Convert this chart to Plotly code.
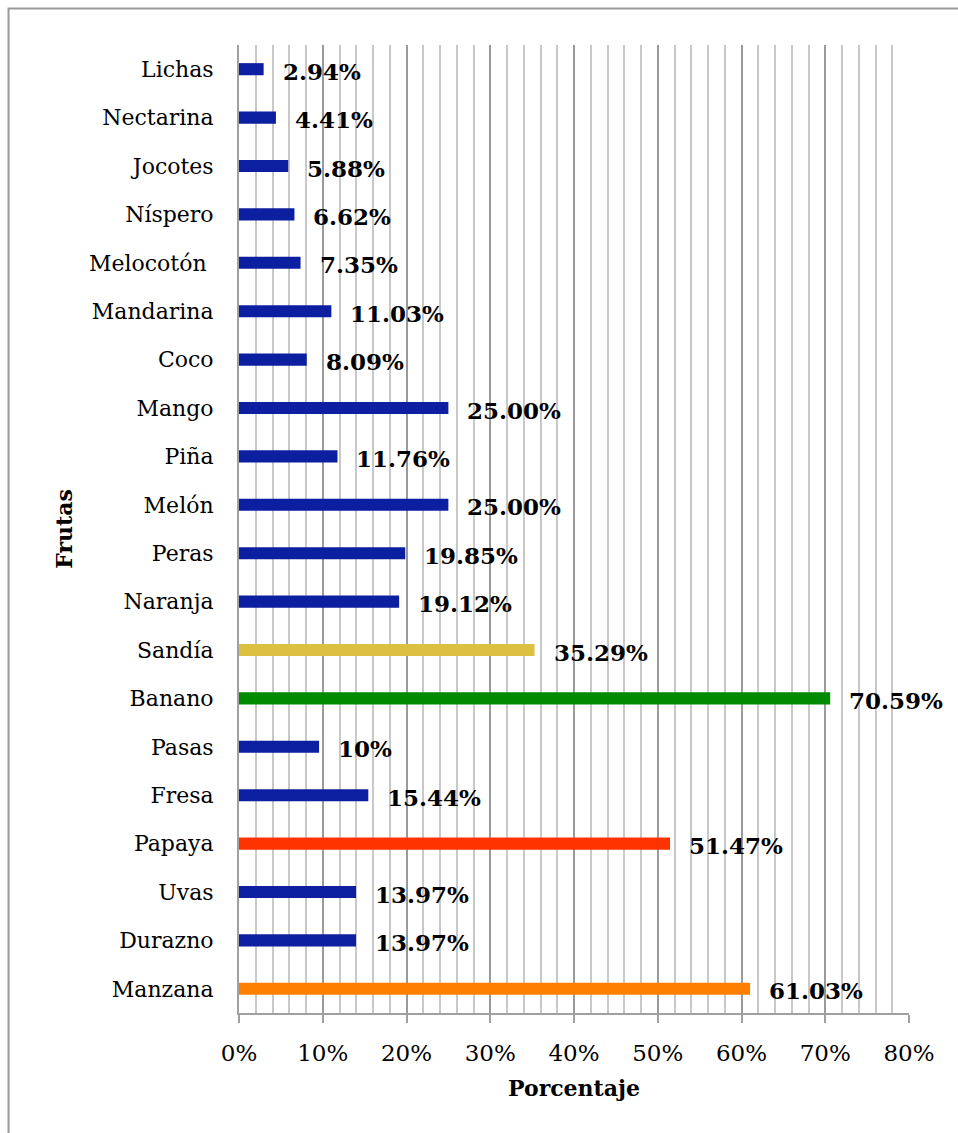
import plotly.graph_objects as go

frutas = ["Manzana", "Durazno", "Uvas", "Papaya", "Fresa", "Pasas", "Banano", "Sandía",
          "Naranja", "Peras", "Melón", "Piña", "Mango", "Coco", "Mandarina", "Melocotón ",
          "Níspero", "Jocotes", "Nectarina", "Lichas"]
porcentaje = [61.03, 13.97, 13.97, 51.47, 15.44, 9.56, 70.59, 35.29,
              19.12, 19.85, 25.00, 11.76, 25.00, 8.09, 11.03, 7.35,
              6.62, 5.88, 4.41, 2.94]
etiquetas = ["61.03%", "13.97%", "13.97%", "51.47%", "15.44%", "10%", "70.59%", "35.29%",
             "19.12%", "19.85%", "25.00%", "11.76%", "25.00%", "8.09%", "11.03%", "7.35%",
             "6.62%", "5.88%", "4.41%", "2.94%"]
colores = ["#FF7F00", "#0B1FA0", "#0B1FA0", "#FF3300", "#0B1FA0", "#0B1FA0", "#008A00", "#DDC042",
           "#0B1FA0", "#0B1FA0", "#0B1FA0", "#0B1FA0", "#0B1FA0", "#0B1FA0", "#0B1FA0", "#0B1FA0",
           "#0B1FA0", "#0B1FA0", "#0B1FA0", "#0B1FA0"]

FONT = "DejaVu Serif"

fig = go.Figure()
fig.add_trace(go.Bar(
    x=porcentaje, y=frutas, orientation="h",
    marker=dict(color=colores, line=dict(width=0)),
    width=0.25, hoverinfo="x+y",
))

for v, c, t in zip(porcentaje, frutas, etiquetas):
    fig.add_annotation(x=v, y=c, text="<b>" + t + "</b>", showarrow=False,
                       xanchor="left", xshift=17, yshift=-2,
                       font=dict(family=FONT, size=23, color="black"))

fig.add_shape(type="rect", xref="paper", yref="paper",
              x0=-0.344, x1=1.3, y0=-0.3, y1=1.0377,
              line=dict(color="#999999", width=2), layer="below")

fig.update_layout(
    width=958, height=1133,
    margin=dict(l=239, r=49, t=45, b=120),
    paper_bgcolor="white", plot_bgcolor="white",
    showlegend=False,
    font=dict(family=FONT, size=22, color="black"),
    xaxis=dict(
        range=[0, 80], dtick=10, ticksuffix="%",
        showgrid=True, gridcolor="#9a9a9a", gridwidth=1.5,
        minor=dict(dtick=2, showgrid=True, gridcolor="#c8c8c8", gridwidth=1.5),
        showline=True, linecolor="#a0a0a0", linewidth=2,
        ticks="outside", ticklen=8, tickcolor="#a0a0a0", tickwidth=2,
        ticklabelstandoff=10,
        tickfont=dict(family=FONT, size=23, color="black"),
        title=dict(text="<b>Porcentaje</b>", font=dict(family=FONT, size=22, color="black"),
                   standoff=16),
        zeroline=False, fixedrange=True,
    ),
    yaxis=dict(
        categoryorder="array", categoryarray=frutas,
        range=[-0.5, 19.5],
        showline=True, linecolor="#a0a0a0", linewidth=2,
        ticks="", showgrid=False,
        ticklabelstandoff=19,
        tickfont=dict(family=FONT, size=22, color="black"),
        title=dict(text="<b>Frutas</b>", font=dict(family=FONT, size=22, color="black"),
                   standoff=10),
        fixedrange=True,
    ),
)

fig.write_html("out.html", config={"displayModeBar": False},
               post_script="document.body.style.margin='0';")
